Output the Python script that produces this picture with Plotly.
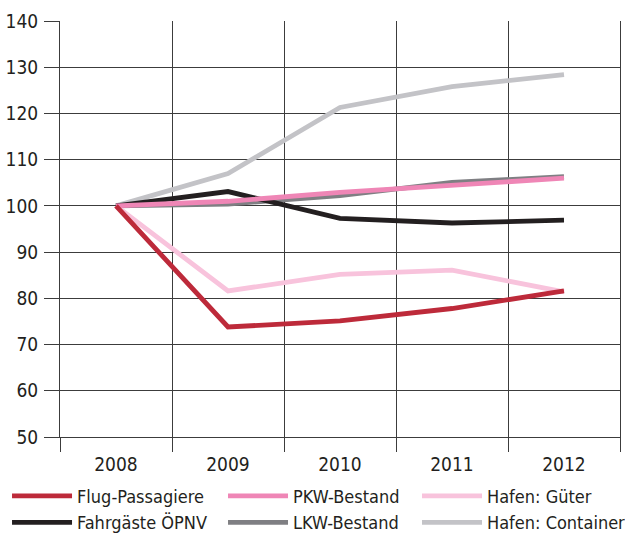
import plotly.graph_objects as go

years = ["2008", "2009", "2010", "2011", "2012"]

flug_passagiere = [100, 73.8, 75.1, 77.8, 81.6]
fahrgaeste_oepnv = [100, 103.1, 97.3, 96.3, 96.9]
pkw_bestand = [100, 101.0, 102.9, 104.5, 106.0]
lkw_bestand = [100, 100.4, 102.2, 105.1, 106.3]
hafen_gueter = [100, 81.6, 85.2, 86.1, 81.4]
hafen_container = [100, 107.0, 121.3, 125.8, 128.4]

y_ticks = [50, 60, 70, 80, 90, 100, 110, 120, 130, 140]

FONT = "DejaVu Sans Condensed, Liberation Sans Narrow, sans-serif"
FS = 18
TFS = 19
TXT = "#231f20"
GRID = "#3c3c3c"

# draw order (bottom to top), with legend placement
series = [
    ("Hafen: Container", hafen_container, "#c3c3c7", "legend3", 2),
    ("LKW-Bestand", lkw_bestand, "#7f7f83", "legend2", 2),
    ("Hafen: Güter", hafen_gueter, "#f8c3dc", "legend3", 1),
    ("Fahrgäste ÖPNV", fahrgaeste_oepnv, "#231f20", "legend", 2),
    ("PKW-Bestand", pkw_bestand, "#ef86b6", "legend2", 1),
    ("Flug-Passagiere", flug_passagiere, "#bd2a3a", "legend", 1),
]

fig = go.Figure()
for name, vals, col, leg, rank in series:
    fig.add_trace(go.Scatter(
        x=years, y=vals, name=name, mode="lines",
        line=dict(color=col, width=4.8),
        legend=leg, legendrank=rank,
    ))

legend_common = dict(
    orientation="v", yanchor="top", y=-0.098, xanchor="left",
    font=dict(family=FONT, size=FS, color=TXT),
    bgcolor="rgba(0,0,0,0)", borderwidth=0, tracegroupgap=0,
    itemwidth=60, traceorder="normal",
)

fig.update_layout(
    width=625, height=534,
    margin=dict(l=60, r=5, t=21, b=97, autoexpand=False),
    paper_bgcolor="white", plot_bgcolor="white",
    font=dict(family=FONT, size=FS, color=TXT),
    showlegend=True,
    legend=dict(x=-0.0946, **legend_common),
    legend2=dict(x=0.2911, **legend_common),
    legend3=dict(x=0.6375, **legend_common),
    xaxis=dict(
        type="category", tickson="boundaries", range=[-0.5, 4.5],
        ticks="outside", ticklen=14, tickcolor=GRID, tickwidth=1,
        showgrid=True, gridcolor=GRID, gridwidth=1,
        showline=True, linecolor=GRID, linewidth=1,
        automargin=False, ticklabelstandoff=10,
        tickfont=dict(family=FONT, size=TFS, color=TXT),
    ),
    yaxis=dict(
        range=[50, 140], tickvals=y_ticks, ticks="outside", ticklen=15,
        tickcolor=GRID, tickwidth=1,
        showgrid=True, gridcolor=GRID, gridwidth=1,
        showline=True, linecolor=GRID, linewidth=1, mirror=True,
        zeroline=False, ticklabelstandoff=2, automargin=False,
        tickfont=dict(family=FONT, size=TFS, color=TXT),
    ),
)

fig.write_html(
    "out.html",
    config={"displayModeBar": False},
    post_script="document.body.style.margin='0';document.body.style.overflow='hidden';",
)
